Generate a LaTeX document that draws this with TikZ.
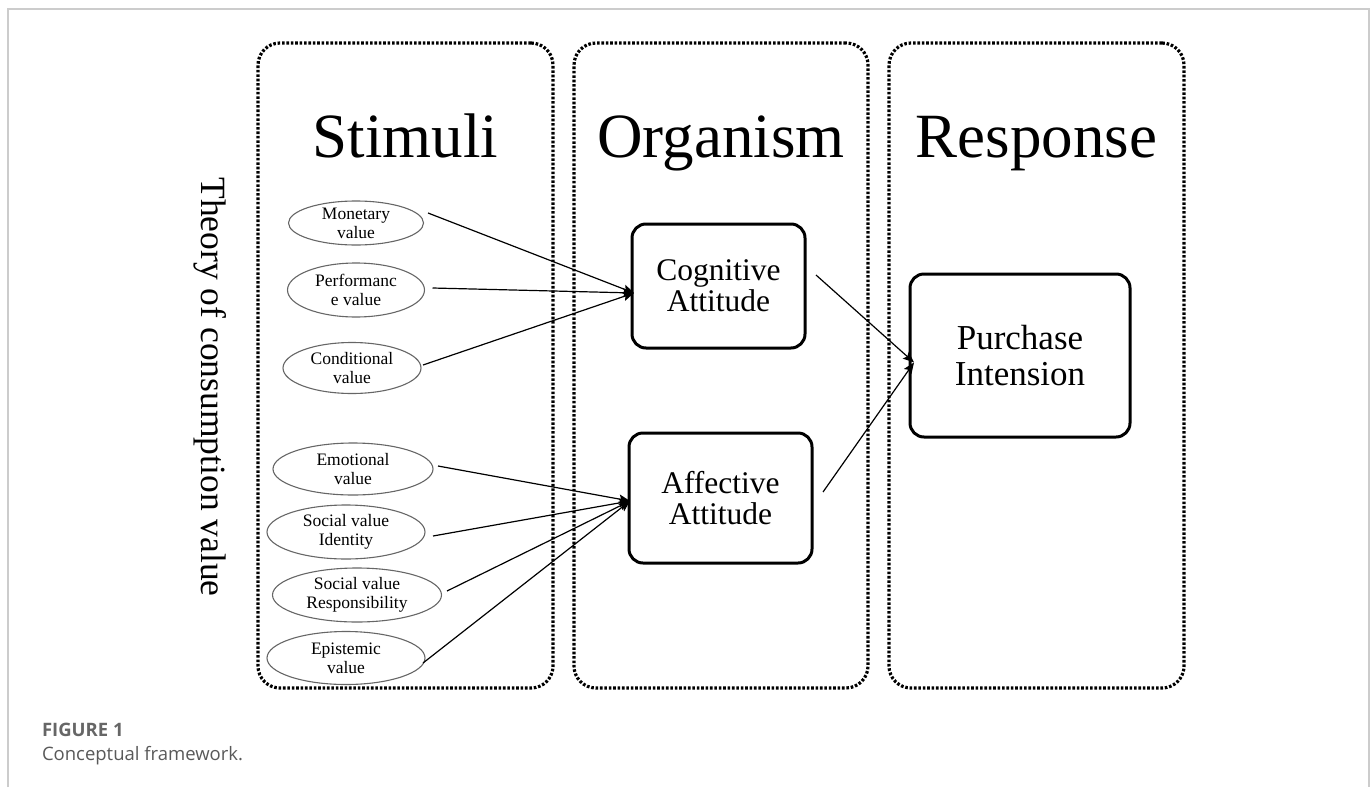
\documentclass[tikz,border=0pt]{standalone}
\usepackage{fontspec}
\setmainfont{Liberation Serif}
\newfontfamily\capfont{Open Sans}
\usetikzlibrary{shapes.geometric,arrows.meta,calc}
\begin{document}
\begin{tikzpicture}[x=1pt,y=-1pt,
  every node/.style={inner sep=0pt, outer sep=0pt},
  region/.style={draw=black, line width=3.2pt, dash pattern=on 2.6pt off 1.8pt, rounded corners=22pt, rectangle},
  title/.style={font=\fontsize{63}{63}\selectfont, anchor=base},
  val/.style={ellipse, draw=black!60, line width=1.1pt, align=center, font=\fontsize{17.5}{19}\selectfont},
  construct/.style={draw=black, line width=3pt, rounded corners=14pt, rectangle, align=center},
  arr/.style={draw=black, line width=1.2pt, -{Stealth[length=11pt,width=9pt,inset=2pt]}},
  frameline/.style={draw=black!20, line width=2pt}
]
\useasboundingbox (0,0) rectangle (1372,787);
% page frame
\draw[frameline] (8,787) -- (8,9) -- (1369,9) -- (1369,787);

% regions
\node[region, minimum width=295pt, minimum height=645pt] (stim) at (405.5,365.5) {};
\node[region, minimum width=294pt, minimum height=645pt] (org) at (721,365.5) {};
\node[region, minimum width=295pt, minimum height=645pt] (resp) at (1036.5,365.5) {};

\node[title] (tstim) at (405.5,157) {Stimuli};
\node[title] (torg) at (721,157) {Organism};
\node[title] (tresp) at (1036.5,157) {Response};

\node[rotate=-90, font=\fontsize{35.5}{35.5}\selectfont] (theory) at (210,387) {Theory of consumption value};

% values
\node[val, minimum width=135pt, minimum height=44pt] (mon) at (356,223) {Monetary\\value};
\node[val, minimum width=137pt, minimum height=54pt] (perf) at (356,290) {Performanc\\e value};
\node[val, minimum width=138pt, minimum height=51pt] (cond) at (352,368) {Conditional\\value};
\node[val, minimum width=160pt, minimum height=52pt] (emo) at (353,469) {Emotional\\value};
\node[val, minimum width=158pt, minimum height=54pt] (iden) at (346,532) {Social value\\Identity};
\node[val, minimum width=169pt, minimum height=54pt] (respo) at (357,595) {Social value\\Responsibility};
\node[val, minimum width=158pt, minimum height=53pt] (epi) at (346,658) {Epistemic\\value};

% constructs
\node[construct, minimum width=173pt, minimum height=124pt, font=\fontsize{31.5}{31}\selectfont] (cog) at (718.5,286) {Cognitive\\Attitude};
\node[construct, minimum width=183pt, minimum height=130pt, font=\fontsize{31.5}{30.5}\selectfont] (aff) at (720.5,498) {Affective\\Attitude};
\node[construct, minimum width=220pt, minimum height=163pt, font=\fontsize{35}{36}\selectfont] (pur) at (1020,355.5) {Purchase\\Intension};

\coordinate (cogin) at ([shift={(2,7)}]cog.west);
\coordinate (affin) at ([shift={(1,3)}]aff.west);
\coordinate (purin) at ([shift={(4,7)}]pur.west);

\draw[arr] ([shift={(4.5,-10)}]mon.east) -- (cogin);
\draw[arr] ([shift={(8,-2)}]perf.east) -- (cogin);
\draw[arr] ([shift={(2,-3)}]cond.east) -- (cogin);
\draw[arr] ([shift={(5,-3)}]emo.east) -- (affin);
\draw[arr] ([shift={(8,4)}]iden.east) -- (affin);
\draw[arr] ([shift={(5.5,-4)}]respo.east) -- (affin);
\draw[arr] ([shift={(-2,5)}]epi.east) -- (affin);
\draw[arr] ([shift={(11,-11)}]cog.east) -- (purin);
\draw[arr] ([shift={(11,-6)}]aff.east) -- (purin);

% caption
\node[anchor=base west, font=\capfont\bfseries\fontsize{18.5}{18.5}\selectfont, text=black!60] (fig) at (42,736) {FIGURE 1};
\node[anchor=base west, font=\capfont\fontsize{18.5}{18.5}\selectfont, text=black!65] (capt) at (42,760) {Conceptual framework.};
\end{tikzpicture}
\end{document}
